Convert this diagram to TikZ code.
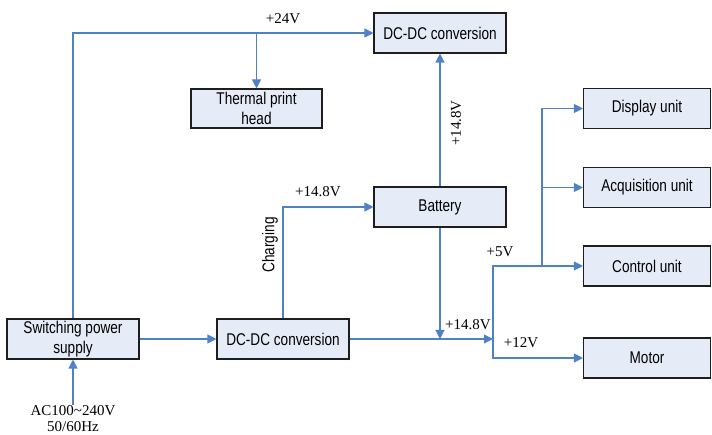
\documentclass[tikz,border=0pt]{standalone}
\usepackage{fontspec}
\setmainfont{Liberation Serif}
\newfontfamily\boxfont[FakeStretch=0.8]{Liberation Sans}
\usetikzlibrary{arrows.meta}
\definecolor{linec}{RGB}{79,129,199}
\definecolor{boxfill}{RGB}{230,236,247}
\definecolor{boxedge}{RGB}{30,30,30}
\tikzset{
  blk/.style={draw=boxedge, line width=1.1pt, fill=boxfill, minimum width=132pt, minimum height=40pt,
    inner sep=0pt, align=center, font=\boxfont\fontsize{17}{20}\selectfont},
  ublk/.style={blk, minimum width=127pt},
  wire/.style={draw=linec, line width=1.1pt},
  arr/.style={wire, -{Triangle[length=9pt,width=9pt]}},
  lbl/.style={font=\fontsize{15}{17}\selectfont, inner sep=0pt}
}
\begin{document}
\begin{tikzpicture}[x=1pt,y=-1pt]
\useasboundingbox (0,0) rectangle (712,435);
% blocks
\node[blk] (dctop) at (440,33) {DC-DC conversion};
\node[blk, minimum width=131pt, minimum height=39pt] (thermal) at (256.5,108.5) {Thermal print\\head};
\node[ublk] (display) at (647,108.5) {Display unit};
\node[ublk] (acq) at (647,187.5) {Acquisition unit};
\node[blk] (battery) at (440,207) {Battery};
\node[ublk] (control) at (647,266) {Control unit};
\node[ublk] (motor) at (647,358) {Motor};
\node[blk] (sw) at (73,339) {Switching power\\supply};
\node[blk] (dcbot) at (283,339) {DC-DC conversion};
% coordinates
\coordinate (t24) at (thermal.north |- dctop.west);
\coordinate (ac) at (73,410);
\coordinate (bj) at (battery.south |- dcbot.east);
\coordinate (hub) at (493,339);
\coordinate (h5) at (542,266);
\coordinate (hacq) at (542,187.5);
% wires
\draw[arr] (sw.north) |- (dctop.west);
\draw[arr] (t24) -- (thermal.north);
\draw[arr] (ac) -- (sw.south);
\draw[arr] (sw.east) -- (dcbot.west);
\draw[arr] (dcbot.north) |- (battery.west);
\draw[arr] (battery.north) -- (dctop.south);
\draw[arr] (battery.south) -- (bj);
\draw[arr] (dcbot.east) -- (hub);
\draw[arr] (hub) |- (control.west);
\draw[arr] (hub) |- (motor.west);
\draw[arr] (h5) |- (display.west);
\draw[arr] (hacq) -- (acq.west);
% labels
\node[lbl] (l24) at (283,19) {+24V};
\node[lbl, fill=white, align=center, inner sep=0.5pt, font=\fontsize{15}{16}\selectfont] (lac) at (73,419) {AC100\textasciitilde240V\\50/60Hz};
\node[lbl, font=\boxfont\fontsize{17}{20}\selectfont, rotate=90] (lchg) at (270,245) {Charging};
\node[lbl] (l148a) at (318,192) {+14.8V};
\node[lbl, rotate=90] (l148b) at (456,123) {+14.8V};
\node[lbl] (l148c) at (468,325) {+14.8V};
\node[lbl] (l5) at (500,252) {+5V};
\node[lbl] (l12) at (521,343) {+12V};
\end{tikzpicture}
\end{document}
